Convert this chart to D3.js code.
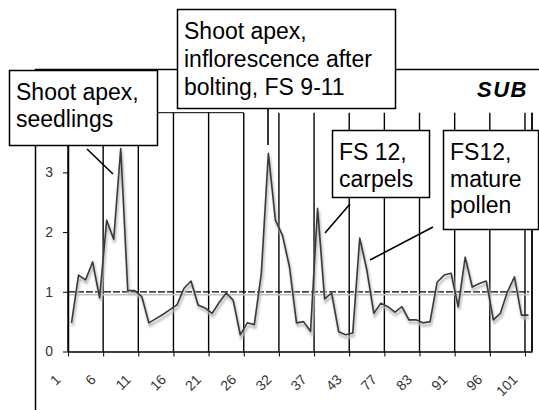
<!DOCTYPE html>
<html lang="en">
<head>
    <meta charset="UTF-8">
    <title>SUB expression profile</title>
    <script src="https://d3js.org/d3.v7.min.js"></script>
    <style>
        body {
            margin: 0;
            padding: 0;
            background: #fff;
        }
        svg {
            display: block;
            font-family: "Liberation Sans", Arial, sans-serif;
        }
        .axis path, .axis line {
            stroke: #000;
        }
        .axis text {
            font-size: 14px;
            fill: #333;
        }
        .note rect {
            fill: #fff;
            stroke: #000;
            stroke-width: 1.5;
        }
        .note text {
            font-size: 23px;
            fill: #000;
        }
    </style>
</head>
<body>
    <div id="chart"></div>

    <script>
        // Expression level per sample (66 samples)
        const values = [
            0.48, 1.28, 1.20, 1.50, 0.90, 2.20, 1.88, 3.40, 1.02, 1.02,
            0.92, 0.48, 0.55, 0.62, 0.70, 0.78, 1.06, 1.18, 0.78, 0.73,
            0.64, 0.82, 0.98, 0.86, 0.28, 0.48, 0.45, 1.31, 3.32, 2.20,
            1.95, 1.42, 0.48, 0.50, 0.34, 2.40, 0.88, 0.98, 0.33, 0.28,
            0.31, 1.90, 1.37, 0.64, 0.81, 0.75, 0.66, 0.75, 0.53, 0.53,
            0.48, 0.50, 1.16, 1.28, 1.31, 0.75, 1.58, 1.08, 1.14, 1.18,
            0.53, 0.64, 1.00, 1.25, 0.61, 0.61
        ];

        // Labels shown under every 5th sample
        const tickLabels = ["1", "6", "11", "16", "21", "26", "32", "37", "43", "77", "83", "91", "96", "101"];
        const yTicks = [0, 1, 2, 3];
        const yMax = 4;
        const baseline = 1;

        const width = 539, height = 410;
        const plotLeft = 68, plotRight = 532, plotTop = 112.7, plotBottom = 351.5;

        const svg = d3.select("#chart")
            .append("svg")
            .attr("width", width)
            .attr("height", height);

        // blur for the line's shadow
        svg.append("defs").append("filter")
            .attr("id", "soft")
            .append("feGaussianBlur")
            .attr("stdDeviation", 0.8);

        const x = d3.scaleBand()
            .domain(d3.range(values.length))
            .range([plotLeft, plotRight])
            .paddingInner(0)
            .paddingOuter(0);

        // boundaries between samples, used for ticks and gridlines
        const xEdge = d3.scaleLinear()
            .domain([0, values.length])
            .range([plotLeft, plotRight]);

        const y = d3.scaleLinear()
            .domain([0, yMax])
            .range([plotBottom, plotTop]);

        const tickIdx = tickLabels.map((d, i) => i * 5);

        // outer frame
        svg.append("rect")
            .attr("x", 35.5)
            .attr("y", 69.5)
            .attr("width", 540)
            .attr("height", 400)
            .attr("fill", "none")
            .attr("stroke", "#000")
            .attr("stroke-width", 1.5);

        // top border of plot (mostly hidden behind boxes)
        svg.append("line")
            .attr("x1", plotLeft).attr("x2", xEdge(25))
            .attr("y1", y(yMax)).attr("y2", y(yMax))
            .attr("stroke", "#000");

        // vertical gridlines
        svg.append("g")
            .selectAll("line")
            .data(tickIdx.concat([values.length]))
            .enter()
            .append("line")
            .attr("x1", d => xEdge(d))
            .attr("x2", d => xEdge(d))
            .attr("y1", y(yMax))
            .attr("y2", y(0))
            .attr("stroke", "#000")
            .attr("stroke-width", 1.4);

        // reference line at 1
        svg.append("line")
            .attr("x1", plotLeft).attr("x2", xEdge(values.length) - 3)
            .attr("y1", y(baseline) + 3).attr("y2", y(baseline) + 3)
            .attr("stroke", "#c4c4c4")
            .attr("stroke-width", 1.5);
        svg.append("line")
            .attr("x1", plotLeft).attr("x2", xEdge(values.length) - 3)
            .attr("y1", y(baseline)).attr("y2", y(baseline))
            .attr("stroke", "#000")
            .attr("stroke-width", 1.2)
            .attr("stroke-dasharray", "7,2");

        // data line with grey shadow
        const line = d3.line()
            .x((d, i) => x(i) + x.bandwidth() / 2)
            .y(d => y(d));

        svg.append("path")
            .datum(values)
            .attr("d", line)
            .attr("transform", "translate(1,3)")
            .attr("fill", "none")
            .attr("stroke", "#bdbdbd")
            .attr("stroke-width", 2.5)
            .attr("filter", "url(#soft)");

        svg.append("path")
            .datum(values)
            .attr("d", line)
            .attr("fill", "none")
            .attr("stroke", "#3a3a3a")
            .attr("stroke-width", 1.6)
            .attr("stroke-linejoin", "round");

        // y axis
        const yAxis = svg.append("g")
            .attr("class", "axis")
            .attr("transform", `translate(${plotLeft},0)`)
            .call(d3.axisLeft(y).tickValues(yTicks).tickSize(5).tickPadding(10).tickSizeOuter(0)
                .tickFormat(d3.format("d")));
        yAxis.select(".domain").attr("stroke-width", 1.5);

        // x axis
        const xAxis = svg.append("g")
            .attr("class", "axis")
            .attr("transform", `translate(0,${plotBottom})`)
            .call(d3.axisBottom(xEdge).tickValues(tickIdx).tickSize(5).tickSizeOuter(0)
                .tickFormat((d, i) => tickLabels[i]));
        xAxis.select(".domain").attr("stroke-width", 1.5);
        // labels slanted 45 degrees, their end just left of each tick
        xAxis.selectAll(".tick text")
            .attr("x", 0)
            .attr("y", 0)
            .attr("dy", 0)
            .attr("text-anchor", "end")
            .attr("transform", "translate(-7,29) rotate(-45)");

        // plot right border
        svg.append("line")
            .attr("x1", xEdge(values.length)).attr("x2", xEdge(values.length))
            .attr("y1", y(yMax)).attr("y2", y(0))
            .attr("stroke", "#000")
            .attr("stroke-width", 1.4);

        // title
        svg.append("text")
            .attr("x", 528)
            .attr("y", 97)
            .attr("text-anchor", "end")
            .attr("font-size", 22)
            .attr("font-weight", "bold")
            .attr("font-style", "italic")
            .attr("letter-spacing", 1.5)
            .text("SUB");

        // callout leader lines
        const leaders = [
            [87, 149, 113, 174],
            [268, 108, 268, 145],
            [350, 204, 325, 233],
            [433, 227, 370, 260]
        ];
        svg.append("g")
            .selectAll("line")
            .data(leaders)
            .enter()
            .append("line")
            .attr("x1", d => d[0]).attr("y1", d => d[1])
            .attr("x2", d => d[2]).attr("y2", d => d[3])
            .attr("stroke", "#000")
            .attr("stroke-width", 1.6);

        // callout boxes
        const notes = [
            { x: 9, y: 70, w: 148, h: 75, lines: ["Shoot apex,", "seedlings"], lh: 26.5 },
            { x: 177, y: 9, w: 218, h: 99, lines: ["Shoot apex,", "inflorescence after", "bolting, FS 9-11"], lh: 28 },
            { x: 332, y: 130, w: 97, h: 67, lines: ["FS 12,", "carpels"], lh: 26.5 },
            { x: 443, y: 130, w: 95, h: 99, lines: ["FS12,", "mature", "pollen"], lh: 26.5 }
        ];

        const note = svg.append("g")
            .selectAll("g")
            .data(notes)
            .enter()
            .append("g")
            .attr("class", "note")
            .attr("transform", d => `translate(${d.x},${d.y})`);

        note.append("rect")
            .attr("x", 0.5).attr("y", 0.5)
            .attr("width", d => d.w)
            .attr("height", d => d.h);

        note.append("text")
            .attr("x", 7)
            .attr("y", 30)
            .selectAll("tspan")
            .data(d => d.lines.map(t => ({ t, lh: d.lh })))
            .enter()
            .append("tspan")
            .attr("x", 7)
            .attr("dy", (d, i) => i === 0 ? 0 : d.lh)
            .text(d => d.t);
    </script>
</body>
</html>
